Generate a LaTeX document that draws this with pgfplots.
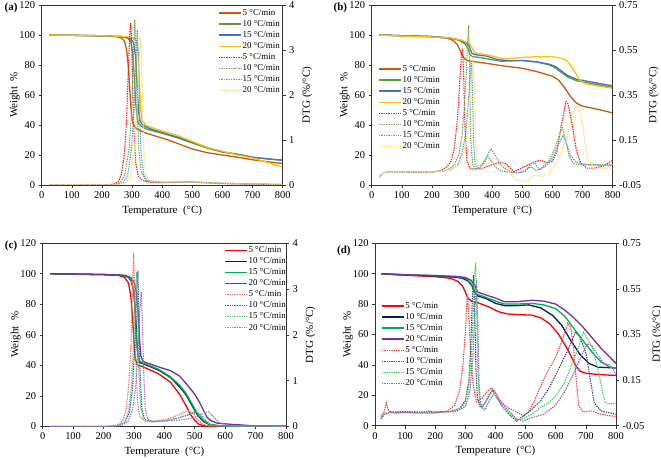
\documentclass[border=0pt]{standalone}
\usepackage{fontspec}
\setmainfont{Liberation Serif}
\usepackage{pgfplots}
\pgfplotsset{compat=1.18}
\definecolor{aO}{HTML}{C55A11}
\definecolor{aG}{HTML}{5B9B3B}
\definecolor{aB}{HTML}{4472C4}
\definecolor{aY}{HTML}{FFC000}
\definecolor{aRd}{HTML}{FF1A1A}
\definecolor{aGd}{HTML}{70AD47}
\definecolor{aBd}{HTML}{5B9BD5}
\definecolor{aYd}{HTML}{FFD966}
\definecolor{cR}{HTML}{FF0000}
\definecolor{cN}{HTML}{002060}
\definecolor{cG}{HTML}{00B050}
\definecolor{cP}{HTML}{7030A0}
\definecolor{cRd}{HTML}{FF7070}
\definecolor{cNd}{HTML}{4A5A9A}
\definecolor{cGd}{HTML}{40D080}
\definecolor{cPd}{HTML}{A070CC}
\definecolor{dRd}{HTML}{FF4040}
\definecolor{dNd}{HTML}{3A4A8A}
\definecolor{dGd}{HTML}{30DD50}
\definecolor{dPd}{HTML}{9060C8}
\pgfplotsset{legend image code/.code={\draw[#1] (0bp,0bp) -- (22bp,0bp);}}
\pgfplotsset{
  common/.style={scale only axis, xmin=0, xmax=800, clip mode=individual,
    tick align=outside, major tick length=3bp,
    axis line style={black!80, line width=0.6pt},
    every tick/.style={black!80, line width=0.6pt},
    label style={font=\fontsize{11}{12}\selectfont},
    tick label style={font=\fontsize{10.5}{12}\selectfont},
    /pgf/number format/assume math mode=true},
  wax/.style={common, ymin=0, ymax=120, xtick={0,100,...,800}, ytick={0,20,...,120},
    xtick pos=bottom, ytick pos=left,
    xlabel={Temperature\ \ (°C)}, ylabel={Weight\ \ \%},
    xlabel style={yshift=0bp}, ylabel shift=-7bp},
  dax/.style={common, axis x line=none, axis y line*=right,
    ylabel={DTG (\%/°C)}, ylabel shift=1bp,
    legend cell align=left,
    legend style={draw=none, fill=none, font=\fontsize{9}{10}\selectfont, row sep=1.6bp,
      nodes={inner sep=1bp}}},
  dtgA/.style={ymin=0, ymax=4, ytick={0,1,2,3,4}},
  dtgB/.style={ymin=-0.05, ymax=0.75, ytick={-0.05,0.15,0.35,0.55,0.75},
    yticklabels={-0.05,0.15,0.35,0.55,0.75}},
  sl/.style={line width=1.3pt},
  dl/.style={line width=1.1pt, dash pattern=on 1.4pt off 1pt},
}
\begin{document}
\begin{tikzpicture}
\useasboundingbox (0bp,0bp) rectangle (661bp,459bp);
% ================= (a) =================
\begin{axis}[wax, at={(41.7bp,274bp)}, anchor=south west, width=241bp, height=180bp]
\addplot[sl, aO] coordinates {(25,100)(100,99.8)(200,99.3)(250,98.8)(265,98)(275,96)(282,90)(288,78)(292,65)(296,52)(300,44)(305,40)(315,37.5)(340,35)(380,32.5)(420,30)(460,27)(500,24)(550,21.5)(600,20)(650,18.5)(700,16.8)(750,15.5)(800,14.3)};
\addplot[sl, aG] coordinates {(25,100)(100,99.8)(200,99.5)(260,99)(285,98)(295,96)(302,88)(308,70)(312,55)(316,45)(322,41)(335,38.5)(360,36.5)(400,34.5)(450,31.5)(500,28)(550,24.5)(600,22)(650,20.5)(700,18.5)(750,17.3)(800,16.5)};
\addplot[sl, aB] coordinates {(25,100)(100,99.8)(200,99.5)(270,99)(295,97.5)(305,95)(312,85)(317,65)(321,50)(326,43)(335,40)(360,37.5)(400,35)(450,32)(500,28.5)(550,25)(600,22)(650,20.5)(700,18.5)(750,17.5)(800,16.5)};
\addplot[sl, aY] coordinates {(25,100)(100,99.8)(200,99.5)(280,99)(305,98)(315,96)(320,88)(325,65)(329,50)(333,43)(345,40)(370,38)(400,36)(450,33)(500,29)(550,25)(600,22.5)(650,20)(700,18)(750,15)(800,12)};
\node[font=\bfseries\fontsize{11}{12}\selectfont] at (rel axis cs:-0.127,0.983) {(a)};
\end{axis}
\begin{axis}[dax, dtgA, at={(41.7bp,274bp)}, anchor=south west, width=241bp, height=180bp,
  legend style={at={(0.72,0.994)}, anchor=north west}]
\addlegendimage{line width=1.3pt, color=aO}\addlegendentry{5 °C/min}
\addlegendimage{line width=1.3pt, color=aG}\addlegendentry{10 °C/min}
\addlegendimage{line width=1.3pt, color=aB}\addlegendentry{15 °C/min}
\addlegendimage{line width=1.3pt, color=aY}\addlegendentry{20 °C/min}
\addplot[dl, color=aRd] coordinates {(25,0)(200,0)(240,0.02)(255,0.08)(265,0.25)(275,0.7)(282,1.5)(288,2.6)(292,3.3)(295,3.6)(298,3.3)(302,2.2)(306,1.2)(312,0.5)(320,0.2)(335,0.1)(360,0.06)(400,0.05)(450,0.06)(480,0.07)(520,0.06)(600,0.03)(700,0.02)(800,0.01)};
\addlegendentry{5 °C/min}
\addplot[dl, color=aGd] coordinates {(25,0)(230,0)(260,0.05)(275,0.2)(290,0.8)(298,1.6)(304,2.8)(309,3.67)(313,3.0)(317,1.8)(322,0.8)(330,0.3)(345,0.1)(380,0.06)(450,0.06)(490,0.07)(550,0.05)(650,0.03)(800,0.01)};
\addlegendentry{10 °C/min}
\addplot[dl, color=aBd] coordinates {(25,0)(240,0)(270,0.05)(285,0.2)(298,0.8)(306,1.6)(312,2.7)(317,3.45)(321,2.8)(325,1.6)(330,0.7)(338,0.25)(350,0.1)(400,0.06)(480,0.07)(550,0.05)(650,0.03)(800,0.01)};
\addlegendentry{15 °C/min}
\addplot[dl, color=aYd] coordinates {(25,0)(250,0)(280,0.05)(295,0.2)(308,0.8)(316,1.6)(322,2.6)(327,3.27)(331,2.8)(335,1.6)(340,0.6)(347,0.2)(360,0.08)(400,0.06)(480,0.07)(550,0.05)(650,0.03)(800,0.01)};
\addlegendentry{20 °C/min}
\end{axis}
% ================= (b) =================
\begin{axis}[wax, at={(371.7bp,274bp)}, anchor=south west, width=241bp, height=180bp]
\addplot[sl, aO] coordinates {(25,100)(100,99.5)(200,98.8)(250,97.8)(270,96.5)(285,93.5)(295,89)(305,85)(315,83)(350,82)(400,80.5)(450,79)(500,77.8)(550,75.5)(600,72.5)(620,70)(640,65)(660,59)(680,54.5)(700,52.5)(750,50.5)(800,48)};
\addplot[sl, aG] coordinates {(25,100)(100,99.5)(200,99)(260,98)(290,96.5)(310,94)(320,91)(326,87)(335,85.5)(360,85)(400,83.5)(430,82.5)(500,83)(550,82)(590,80)(610,78)(630,75)(650,72)(680,69.5)(720,68)(760,66.5)(800,65)};
\addplot[sl, aB] coordinates {(25,100)(100,99.5)(200,99)(260,98)(295,96.5)(315,94.5)(325,92)(332,88)(340,87)(380,86)(420,83.5)(450,83)(500,83)(550,82)(590,80.5)(610,79)(630,76)(650,73)(680,70.5)(720,69)(760,67.5)(800,66)};
\addplot[sl, aY] coordinates {(25,100)(100,99.3)(200,98.7)(260,98)(300,96.5)(325,94)(335,91)(342,88)(360,87.5)(400,86)(440,84)(470,84.5)(500,85)(550,85.5)(600,85.5)(630,84.5)(650,82.5)(670,77)(690,70)(710,67.5)(750,66)(800,64.5)};
\node[font=\bfseries\fontsize{11}{12}\selectfont] at (rel axis cs:-0.13,0.983) {(b)};
\end{axis}
\begin{axis}[dax, dtgB, at={(371.7bp,274bp)}, anchor=south west, width=241bp, height=180bp,
  legend style={at={(0.014,0.683)}, anchor=north west}]
\addlegendimage{line width=1.3pt, color=aO}\addlegendentry{5 °C/min}
\addlegendimage{line width=1.3pt, color=aG}\addlegendentry{10 °C/min}
\addlegendimage{line width=1.3pt, color=aB}\addlegendentry{15 °C/min}
\addlegendimage{line width=1.3pt, color=aY}\addlegendentry{20 °C/min}
\addplot[dl, color=aRd] coordinates {(25,-0.015)(35,0.0)(50,0.008)(100,0.008)(150,0.005)(200,0.008)(230,0.015)(250,0.03)(265,0.06)(275,0.12)(285,0.25)(292,0.4)(298,0.53)(301,0.56)(305,0.45)(310,0.2)(316,0.06)(325,0.025)(340,0.02)(370,0.025)(400,0.04)(425,0.05)(445,0.045)(460,0.025)(472,0.01)(490,0.02)(520,0.04)(545,0.055)(560,0.06)(580,0.05)(600,0.055)(615,0.1)(630,0.22)(645,0.32)(652,0.31)(665,0.22)(680,0.1)(695,0.045)(715,0.025)(740,0.025)(770,0.035)(800,0.06)};
\addlegendentry{5 °C/min}
\addplot[dl, color=aGd] coordinates {(25,-0.015)(35,0.0)(50,0.008)(200,0.008)(250,0.015)(275,0.04)(290,0.09)(300,0.17)(308,0.3)(314,0.45)(318,0.58)(322,0.66)(325,0.45)(329,0.15)(335,0.04)(345,0.02)(360,0.03)(375,0.06)(385,0.078)(395,0.06)(410,0.03)(430,0.012)(470,0.005)(500,0.008)(520,0.025)(530,0.03)(545,0.015)(560,0.02)(590,0.06)(610,0.12)(625,0.18)(632,0.21)(640,0.17)(655,0.08)(670,0.045)(700,0.04)(750,0.04)(800,0.04)};
\addlegendentry{10 °C/min}
\addplot[dl, color=aBd] coordinates {(25,-0.015)(35,0.0)(50,0.008)(200,0.008)(260,0.015)(285,0.04)(300,0.09)(312,0.18)(320,0.3)(326,0.42)(330,0.5)(334,0.4)(338,0.15)(343,0.04)(355,0.02)(375,0.05)(390,0.1)(397,0.11)(410,0.08)(430,0.035)(460,0.01)(480,0.003)(510,0.01)(530,0.045)(540,0.05)(555,0.02)(575,0.03)(600,0.07)(620,0.13)(635,0.17)(645,0.14)(660,0.08)(680,0.05)(720,0.04)(800,0.035)};
\addlegendentry{15 °C/min}
\addplot[dl, color=aYd] coordinates {(25,-0.015)(35,0.0)(50,0.008)(200,0.008)(260,0.015)(290,0.04)(305,0.09)(318,0.18)(326,0.3)(332,0.42)(337,0.52)(341,0.4)(345,0.15)(350,0.04)(365,0.02)(385,0.04)(400,0.065)(412,0.073)(425,0.06)(450,0.02)(475,-0.02)(495,-0.035)(520,-0.03)(540,-0.005)(550,-0.008)(565,-0.012)(590,0.005)(620,0.06)(645,0.15)(665,0.26)(678,0.3)(690,0.28)(700,0.22)(710,0.12)(720,0.06)(740,0.03)(770,0.025)(800,0.025)};
\addlegendentry{20 °C/min}
\end{axis}
% ================= (c) =================
\begin{axis}[wax, at={(42.7bp,32.7bp)}, anchor=south west, width=243.3bp, height=183bp]
\addplot[sl, cR] coordinates {(25,100)(100,99.8)(200,99.5)(250,99)(270,97.5)(282,94)(290,85)(296,70)(300,55)(304,45)(310,40.5)(330,39)(380,34.5)(420,29)(450,21)(470,14)(485,8)(500,4)(512,1.5)(530,0.3)(560,0)(800,0)};
\addplot[sl, cN] coordinates {(25,100)(100,99.8)(200,99.5)(260,99)(280,98)(292,95)(300,88)(305,75)(309,58)(313,47)(318,42)(330,41)(380,37)(420,32)(450,26)(470,21)(490,14)(510,7)(530,3)(550,1)(580,0.3)(620,0)(800,0)};
\addplot[sl, cG] coordinates {(25,100)(100,99.8)(200,99.5)(260,99)(280,98)(290,96)(298,90)(303,78)(307,62)(311,50)(316,43)(330,41.5)(380,37.5)(420,32.5)(450,27)(470,22)(490,15)(510,8)(530,3.5)(550,1.2)(580,0.4)(620,0)(800,0)};
\addplot[sl, cP] coordinates {(25,100)(100,99.8)(200,99.5)(270,99)(290,97.5)(302,94)(310,85)(315,70)(319,55)(323,46)(330,42.5)(380,39)(420,36.5)(450,33)(480,26)(500,21)(515,16)(530,10)(540,6)(555,3.5)(575,2)(620,1.3)(660,0.8)(700,0.2)(800,0)};
\node[font=\bfseries\fontsize{11}{12}\selectfont] at (rel axis cs:-0.13,0.987) {(c)};
\end{axis}
\begin{axis}[dax, dtgA, at={(42.7bp,32.7bp)}, anchor=south west, width=243.3bp, height=183bp,
  legend style={at={(0.733,0.999)}, anchor=north west}]
\addlegendimage{line width=1.3pt, color=cR}\addlegendentry{5 °C/min}
\addlegendimage{line width=1.3pt, color=cN}\addlegendentry{10 °C/min}
\addlegendimage{line width=1.3pt, color=cG}\addlegendentry{15 °C/min}
\addlegendimage{line width=1.3pt, color=cP}\addlegendentry{20 °C/min}
\addplot[dl, color=cRd] coordinates {(25,0)(200,0)(240,0.02)(255,0.06)(265,0.15)(275,0.4)(283,0.9)(290,1.8)(295,3.0)(299,3.8)(302,3.0)(306,1.5)(312,0.5)(320,0.2)(340,0.1)(380,0.12)(420,0.18)(450,0.26)(470,0.32)(480,0.34)(495,0.28)(510,0.15)(525,0.05)(545,0.01)(800,0)};
\addlegendentry{5 °C/min}
\addplot[dl, color=cNd] coordinates {(25,0)(220,0)(250,0.02)(270,0.08)(285,0.3)(295,0.8)(303,1.8)(309,2.9)(313,3.4)(316,2.6)(320,1.2)(326,0.4)(335,0.15)(360,0.1)(400,0.12)(440,0.17)(480,0.25)(505,0.31)(520,0.25)(535,0.12)(550,0.04)(580,0.01)(800,0)};
\addlegendentry{10 °C/min}
\addplot[dl, color=cGd] coordinates {(25,0)(220,0)(250,0.02)(270,0.1)(283,0.35)(292,0.9)(300,2.0)(306,3.0)(309,3.37)(312,2.6)(316,1.2)(322,0.4)(332,0.15)(360,0.1)(400,0.12)(440,0.17)(480,0.26)(500,0.33)(515,0.28)(530,0.15)(550,0.04)(580,0.01)(800,0)};
\addlegendentry{15 °C/min}
\addplot[dl, color=cPd] coordinates {(25,0)(230,0)(260,0.02)(280,0.1)(295,0.35)(305,0.8)(313,1.6)(319,2.5)(324,2.93)(328,2.3)(332,1.2)(337,0.4)(345,0.15)(370,0.1)(420,0.12)(470,0.15)(510,0.22)(535,0.31)(545,0.32)(560,0.22)(580,0.08)(610,0.03)(650,0.01)(800,0)};
\addlegendentry{20 °C/min}
\end{axis}
% ================= (d) =================
\begin{axis}[wax, at={(375bp,33.3bp)}, anchor=south west, width=241bp, height=182.4bp]
\addplot[sl, cR] coordinates {(20,100)(50,99.5)(100,99)(200,98)(250,97)(275,95)(290,92)(300,88)(308,84)(320,82)(340,81)(380,78)(410,75)(440,73.5)(480,73)(520,72.8)(550,71)(580,67)(610,60)(640,50)(665,40)(680,36)(700,34.5)(740,33.7)(800,33)};
\addplot[sl, cN] coordinates {(20,100)(100,99.2)(200,98.5)(260,97.8)(290,97)(310,95)(322,92)(330,88)(340,85.5)(370,83.5)(400,80.5)(430,79)(470,79)(510,79.5)(550,77.5)(590,72.5)(620,66)(650,56)(680,47)(710,41)(740,38.5)(800,38)};
\addplot[sl, cG] coordinates {(20,100)(100,99.3)(200,98.7)(270,98)(300,97)(318,94)(328,90)(337,86.5)(360,85)(400,82)(430,80)(470,80)(520,80.5)(560,79.5)(600,77)(630,72)(660,64)(690,56)(720,48.5)(750,42)(780,38.5)(800,38)};
\addplot[sl, cP] coordinates {(20,100)(100,99.3)(200,98.8)(270,98.2)(300,97.5)(320,95.5)(332,92)(340,88)(360,86.5)(400,84)(430,81.5)(470,81.5)(520,82.5)(560,82)(600,80)(630,76)(660,71)(690,65)(720,58)(750,51)(780,45)(800,41)};
\node[font=\bfseries\fontsize{11}{12}\selectfont] at (rel axis cs:-0.129,0.96) {(d)};
\end{axis}
\begin{axis}[dax, dtgB, at={(375bp,33.3bp)}, anchor=south west, width=241bp, height=182.4bp,
  legend style={at={(0.012,0.695)}, anchor=north west}]
\addlegendimage{line width=1.3pt, color=cR}\addlegendentry{5 °C/min}
\addlegendimage{line width=1.3pt, color=cN}\addlegendentry{10 °C/min}
\addlegendimage{line width=1.3pt, color=cG}\addlegendentry{15 °C/min}
\addlegendimage{line width=1.3pt, color=cP}\addlegendentry{20 °C/min}
\addplot[dl, color=dRd] coordinates {(20,-0.01)(30,0.01)(38,0.05)(45,0.015)(60,0.005)(100,0.008)(150,0.005)(200,0.005)(240,0.015)(265,0.04)(282,0.11)(292,0.22)(300,0.36)(306,0.52)(311,0.45)(318,0.25)(326,0.13)(337,0.055)(355,0.07)(372,0.1)(387,0.115)(400,0.095)(415,0.06)(440,0.03)(470,0.01)(492,-0.006)(510,0.01)(530,0.06)(545,0.11)(570,0.18)(600,0.25)(620,0.32)(640,0.4)(650,0.38)(660,0.28)(668,0.15)(676,0.04)(690,0.01)(720,0.015)(750,0.0)(800,-0.01)};
\addlegendentry{5 °C/min}
\addplot[dl, color=dNd] coordinates {(20,-0.02)(30,0.0)(50,0.01)(100,0.012)(170,0.01)(180,0.015)(190,0.01)(250,0.012)(280,0.025)(300,0.06)(312,0.15)(318,0.3)(323,0.5)(327,0.61)(331,0.45)(335,0.2)(340,0.07)(350,0.03)(365,0.05)(380,0.09)(390,0.105)(400,0.09)(420,0.04)(445,0.0)(470,-0.03)(490,-0.01)(520,0.02)(550,0.06)(580,0.12)(610,0.2)(640,0.28)(665,0.36)(680,0.34)(700,0.27)(715,0.15)(728,0.05)(750,0.015)(800,0.0)};
\addlegendentry{10 °C/min}
\addplot[dl, color=dGd] coordinates {(20,-0.02)(30,0.0)(50,0.008)(200,0.008)(270,0.015)(295,0.04)(310,0.1)(320,0.25)(326,0.45)(330,0.6)(334,0.665)(337,0.5)(341,0.2)(347,0.05)(357,0.03)(375,0.07)(392,0.11)(405,0.08)(425,0.03)(450,0.0)(470,-0.025)(490,-0.02)(520,0.0)(550,0.03)(575,0.05)(600,0.08)(630,0.14)(660,0.24)(680,0.31)(692,0.36)(705,0.33)(720,0.3)(740,0.2)(755,0.1)(765,0.05)(780,0.045)(800,0.05)};
\addlegendentry{15 °C/min}
\addplot[dl, color=dPd] coordinates {(20,-0.02)(30,0.0)(50,0.008)(200,0.008)(270,0.012)(300,0.035)(315,0.1)(325,0.25)(331,0.45)(337,0.59)(341,0.4)(346,0.12)(352,0.03)(365,0.02)(380,0.06)(395,0.09)(410,0.06)(440,0.02)(470,-0.02)(490,-0.03)(520,-0.015)(560,0.0)(600,0.04)(630,0.1)(660,0.18)(690,0.27)(705,0.31)(720,0.3)(740,0.26)(760,0.22)(775,0.22)(790,0.2)(800,0.17)};
\addlegendentry{20 °C/min}
\end{axis}
\end{tikzpicture}
\end{document}
